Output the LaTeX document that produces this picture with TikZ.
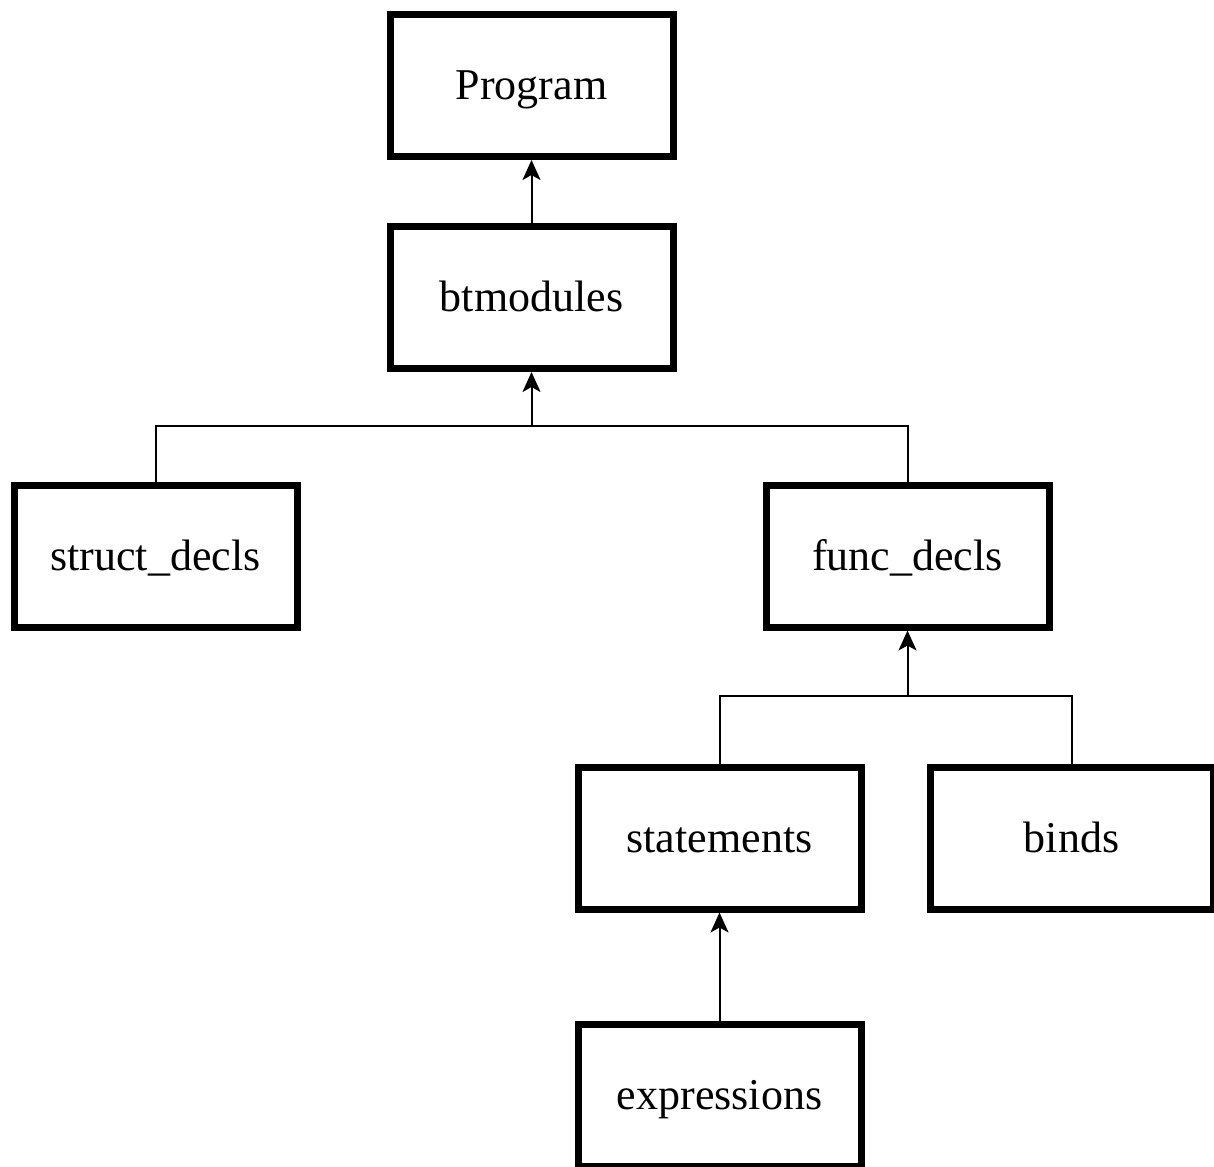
\documentclass[tikz,border=0pt]{standalone}
\usepackage{fontspec}
\setmainfont{Liberation Serif}
\usetikzlibrary{arrows.meta}
\begin{document}
\begin{tikzpicture}[x=1pt,y=-1pt,
  box/.style={draw, line width=7pt, minimum width=283pt, minimum height=142pt,
    inner sep=0pt, font=\fontsize{44}{52}\selectfont, text height=33pt, text depth=5pt},
  link/.style={line width=2pt},
  up/.style={line width=2pt, -{Stealth[length=20pt,width=18pt,inset=5pt]}}]
  \useasboundingbox (0,0) rectangle (1214,1166);

  \node[box] (prog)  at (531.5,  85.5) {Program};
  \node[box] (btmod) at (531.5, 297.5) {btmodules};
  \node[box] (sdecl) at (155.5, 556)   {struct\_decls};
  \node[box] (fdecl) at (907.5, 556)   {func\_decls};
  \node[box] (stmts) at (719.5, 838)   {statements};
  \node[box] (binds) at (1071.5,838)   {binds};
  \node[box] (exprs) at (719.5, 1095)  {expressions};

  \coordinate (j1) at (531.5, 426);
  \coordinate (j2) at (907.5, 696);

  % module level
  \draw[up] (btmod.north) -- (prog.south);
  \draw[link] (sdecl.north) |- (j1) -| (fdecl.north);
  \draw[up] (j1) -- (btmod.south);

  % function level
  \draw[link] (stmts.north) |- (j2) -| (binds.north);
  \draw[up] (j2) -- (fdecl.south);
  \draw[up] (exprs.north) -- (stmts.south);
\end{tikzpicture}
\end{document}
